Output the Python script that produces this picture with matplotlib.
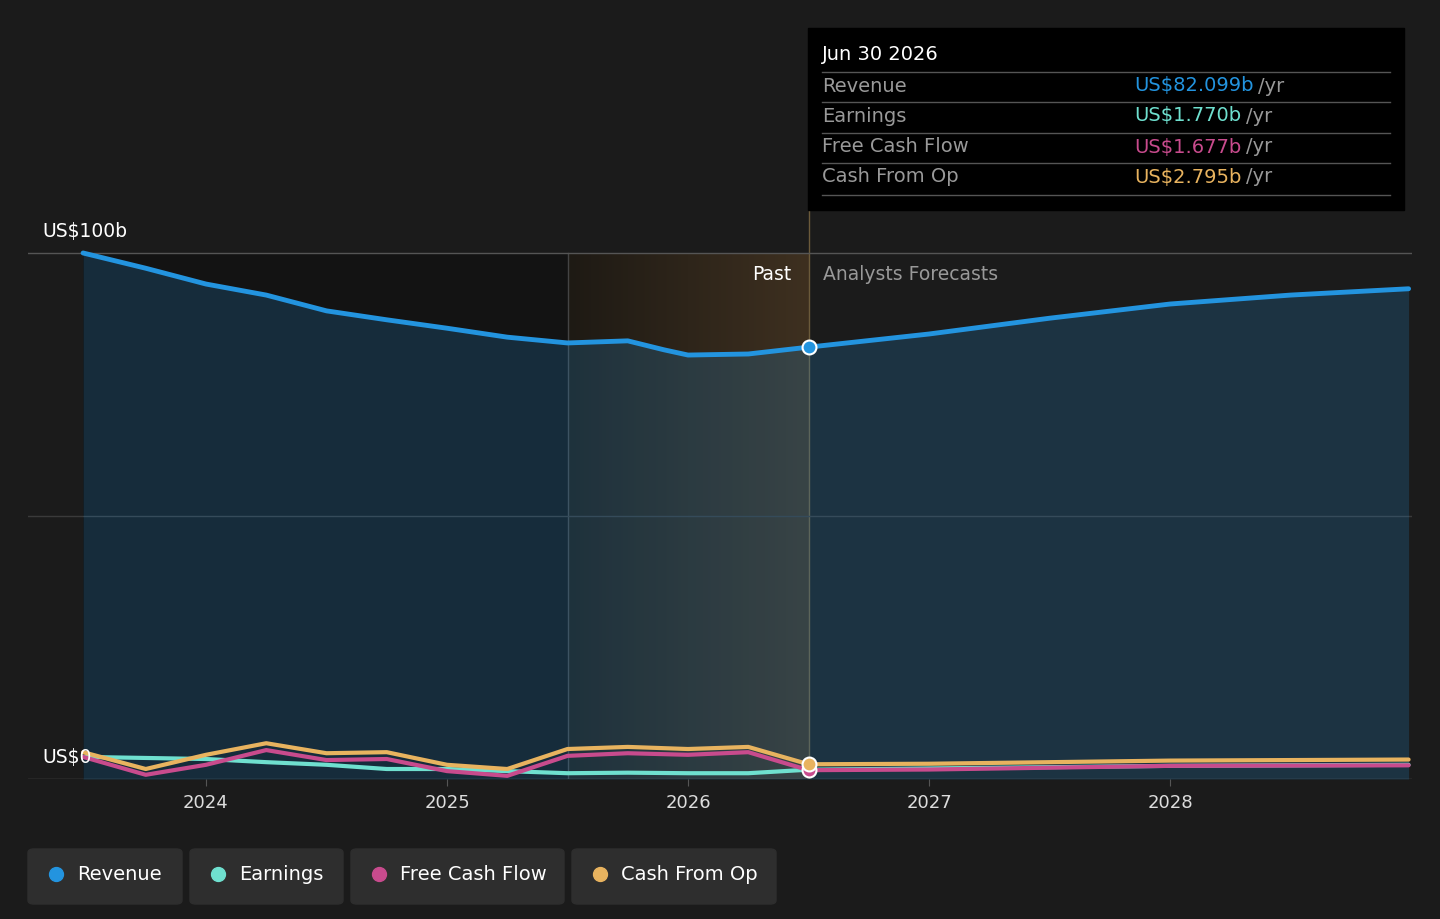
import matplotlib.pyplot as plt
import numpy as np
from matplotlib.patches import FancyBboxPatch, Rectangle

# Data (US$ billions)
rev_x = [2023.49, 2023.75, 2024.0, 2024.25, 2024.5, 2024.75, 2025.0, 2025.25, 2025.5,
         2025.75, 2025.9, 2026.0, 2026.25, 2026.5, 2027.0, 2027.5, 2028.0, 2028.5, 2028.99]
revenue = [100.0, 97.1, 94.1, 92.0, 89.0, 87.3, 85.7, 84.0, 82.9,
           83.3, 81.6, 80.6, 80.8, 82.1, 84.6, 87.6, 90.3, 92.0, 93.2]

past_x = [2023.49, 2023.75, 2024.0, 2024.25, 2024.5, 2024.75, 2025.0, 2025.25, 2025.5,
          2025.75, 2026.0, 2026.25, 2026.5]
earnings_past = [4.2, 4.0, 3.8, 3.2, 2.7, 1.9, 1.9, 1.5, 1.1, 1.2, 1.1, 1.1, 1.77]
fcf_past = [4.2, 0.8, 2.7, 5.5, 3.6, 3.8, 1.5, 0.6, 4.4, 4.9, 4.6, 5.1, 1.68]
cfo_past = [5.1, 1.9, 4.6, 6.8, 4.9, 5.1, 2.7, 1.9, 5.7, 6.1, 5.7, 6.1, 2.8]

fc_x = [2026.5, 2027.0, 2028.0, 2028.99]
earnings_fc = [1.77, 2.0, 2.5, 2.7]
fcf_fc = [1.68, 1.8, 2.5, 2.6]
cfo_fc = [2.8, 2.9, 3.5, 3.7]

c_rev, c_earn, c_fcf, c_cfo = "#2394df", "#6fe0cf", "#c84b8d", "#e8b35f"
bg = "#1b1b1b"

fig = plt.figure(figsize=(14.4, 9.19), dpi=100, facecolor=bg)
W, H = 1440, 919
x0, x1, ytop, ybot = 28, 1412, 200, 779
ax = fig.add_axes([x0 / W, 1 - ybot / H, (x1 - x0) / W, (ybot - ytop) / H])
ax.set_facecolor(bg)
xmin = 2024 - (206 - 28) / 241.0
xmax = 2024 + (1412 - 206) / 241.0
ax.set_xlim(xmin, xmax)
ytop_val = (779 - 200) / 5.26
ax.set_ylim(0, ytop_val)

# past shading
ax.fill_between([2023.49, 2025.5], 0, 100, color="#131313", lw=0, zorder=0)
grad = np.linspace(0, 1, 200).reshape(1, -1)
ax.imshow(grad, extent=[2025.5, 2026.5, 0, 100], aspect="auto",
          cmap=plt.matplotlib.colors.LinearSegmentedColormap.from_list(
              "g", ["#1e1a14", "#3e3020"]), zorder=0.5)
ax.axvline(2025.5, 0, 100 / ytop_val, color="#444444", lw=1, zorder=1)
ax.axvline(2026.5, 0, 1.0, color="#6b5a3a", lw=1, zorder=1)

ax.axhline(100, color="#555555", lw=1)
ax.axhline(50, color="#3a3a3a", lw=1)
ax.axhline(0, color="#555555", lw=1)

ax.fill_between(rev_x, revenue, 0, color=c_rev, alpha=0.2, lw=0, zorder=2)
kw = dict(lw=3, zorder=4, solid_joinstyle="round", solid_capstyle="round")
ax.plot(rev_x, revenue, color=c_rev, **dict(kw, lw=3.5))
ax.plot(past_x, earnings_past, color=c_earn, **kw)
ax.plot(fc_x, earnings_fc, color=c_earn, **kw)
ax.plot(past_x, fcf_past, color=c_fcf, **kw)
ax.plot(fc_x, fcf_fc, color=c_fcf, **kw)
ax.plot(past_x, cfo_past, color=c_cfo, **kw)
ax.plot(fc_x, cfo_fc, color=c_cfo, **kw)
for v, c in [(revenue[13], c_rev), (fcf_fc[0], c_fcf), (cfo_fc[0], c_cfo)]:
    ax.plot(2026.5, v, "o", ms=10, mfc=c, mec="white", mew=1.5, zorder=6)

for s in ax.spines.values():
    s.set_visible(False)
ax.set_yticks([])
ax.set_xticks([2024, 2025, 2026, 2027, 2028])
ax.set_xticklabels(["2024", "2025", "2026", "2027", "2028"], color="#dddddd", fontsize=13)
ax.tick_params(axis="x", length=5, color="#555555", pad=6)

ax.text(2026.43, 96, "Past", color="white", fontsize=13.5, ha="right", va="center")
ax.text(2026.56, 96, "Analysts Forecasts", color="#999999", fontsize=13.5, ha="left", va="center")
fig.text(42 / W, 1 - 232 / H, "US$100b", color="white", fontsize=13.5, va="center")
fig.text(42 / W, 1 - 758 / H, "US$0", color="white", fontsize=13.5, va="center")

# tooltip
fig.patches.append(Rectangle((808 / W, 1 - 210 / H), 596 / W, 182 / H,
                             transform=fig.transFigure, color="black", zorder=10))
fig.text(822 / W, 1 - 55 / H, "Jun 30 2026", color="white", fontsize=14, va="center", zorder=11)
rows = [("Revenue", "US$82.099b", c_rev, 86), ("Earnings", "US$1.770b", c_earn, 116),
        ("Free Cash Flow", "US$1.677b", c_fcf, 147), ("Cash From Op", "US$2.795b", c_cfo, 177)]
for name, val, c, y in rows:
    fig.text(822 / W, 1 - y / H, name, color="#999999", fontsize=14, va="center", zorder=11)
    t = fig.text(1134 / W, 1 - y / H, val, color=c, fontsize=14, va="center", zorder=11)
    fig.canvas.draw()
    bb = t.get_window_extent()
    fig.text(bb.x1 / W + 5 / W, 1 - y / H, "/yr", color="#999999", fontsize=14, va="center", zorder=11)
for y in [72, 102, 133, 163, 195]:
    fig.add_artist(plt.Line2D([822 / W, 1390 / W], [1 - y / H] * 2, color="#555555", lw=1, zorder=11))

# legend buttons
items = [("Revenue", c_rev, 28, 182), ("Earnings", c_earn, 190, 343),
         ("Free Cash Flow", c_fcf, 351, 564), ("Cash From Op", c_cfo, 572, 776)]
for name, c, a, b in items:
    fig.patches.append(FancyBboxPatch((a / W, 1 - 904 / H), (b - a) / W, 55 / H,
                                      boxstyle="round,pad=0,rounding_size=0.004",
                                      transform=fig.transFigure, color="#2e2e2e"))
    fig.add_artist(plt.Line2D([(a + 28) / W], [1 - 874 / H], marker="o", ms=10, color=c))
    fig.text((a + 49) / W, 1 - 874 / H, name, color="white", fontsize=14, va="center")

fig.savefig("out.png", dpi=100, facecolor=bg)
